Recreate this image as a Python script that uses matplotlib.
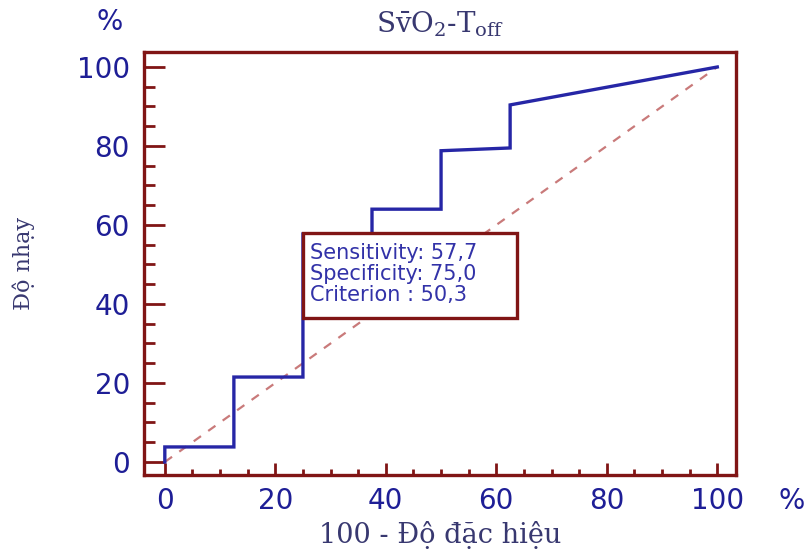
import matplotlib
matplotlib.use("Agg")
import matplotlib.pyplot as plt
from matplotlib.patches import Rectangle

# ROC curve points (100 - specificity, sensitivity)
fpr = [0, 0, 12.5, 12.5, 25, 25, 37.5, 37.5, 50, 50, 62.5, 62.5, 100]
tpr = [0, 3.8, 3.8, 21.5, 21.5, 57.7, 57.7, 64.0, 64.0, 78.8, 79.5, 90.4, 100]
diag = [0, 100]

box_lines = ["Sensitivity: 57,7", "Specificity: 75,0", "Criterion : 50,3"]
crit_x, crit_y = 25, 57.7

plt.rcParams["mathtext.fontset"] = "dejavuserif"

frame_col = "#801515"
blue = "#2626a6"
label_blue = "#1e1e96"
serif_col = "#383870"

fig = plt.figure(figsize=(8.08, 5.56), dpi=100)
ax = fig.add_axes([0.178, 0.1457, 0.733, 0.7608])

ax.plot(diag, diag, color="#c97a7a", lw=1.6, ls=(0, (4, 4)), zorder=2)
ax.plot(fpr, tpr, color=blue, lw=2.4, zorder=3, solid_joinstyle="miter")

# criterion box, its top edge sits on the criterion step
rect = Rectangle((crit_x, 36.5), 38.8, 21.5, facecolor="white",
                 edgecolor=frame_col, lw=2.4, zorder=4)
ax.add_patch(rect)
ax.text(crit_x + 1.2, crit_y - 2.2, "\n".join(box_lines), ha="left", va="top",
        fontsize=15, color="#3232a8", family="DejaVu Sans",
        linespacing=1.08, zorder=5)

ax.set_xlim(-3.8, 103.4)
ax.set_ylim(-3.3, 103.8)

ax.set_xticks(range(0, 101, 20))
ax.set_yticks(range(0, 101, 20))
ax.set_xticks([v for v in range(0, 101, 5) if v % 20], minor=True)
ax.set_yticks([v for v in range(0, 101, 5) if v % 20], minor=True)

ax.tick_params(which="both", direction="in", width=2, color=frame_col,
               labelsize=20, labelcolor=label_blue)
ax.tick_params(axis="y", which="major", length=15, pad=10)
ax.tick_params(axis="y", which="minor", length=8)
ax.tick_params(axis="x", which="major", length=9, pad=9)
ax.tick_params(axis="x", which="minor", length=4.5)
for s in ax.spines.values():
    s.set_color(frame_col)
    s.set_linewidth(2.4)

ax.set_title(r"S$\bar{\mathrm{v}}$O$_2$-T$_{\mathrm{off}}$", fontsize=20,
             color=serif_col, family="DejaVu Serif", pad=14)
ax.set_ylabel("Độ nhạy", fontsize=16, color=serif_col, family="DejaVu Serif",
              labelpad=30)
ax.set_xlabel("100 - Độ đặc hiệu", fontsize=19.5, color=serif_col,
              family="DejaVu Serif", labelpad=4)

fig.text(0.136, 0.96, "%", fontsize=20, color=label_blue, ha="center", va="center")
fig.text(0.98, 0.099, "%", fontsize=20, color=label_blue, ha="center", va="center")

fig.savefig("out.png", dpi=100, facecolor="white")
